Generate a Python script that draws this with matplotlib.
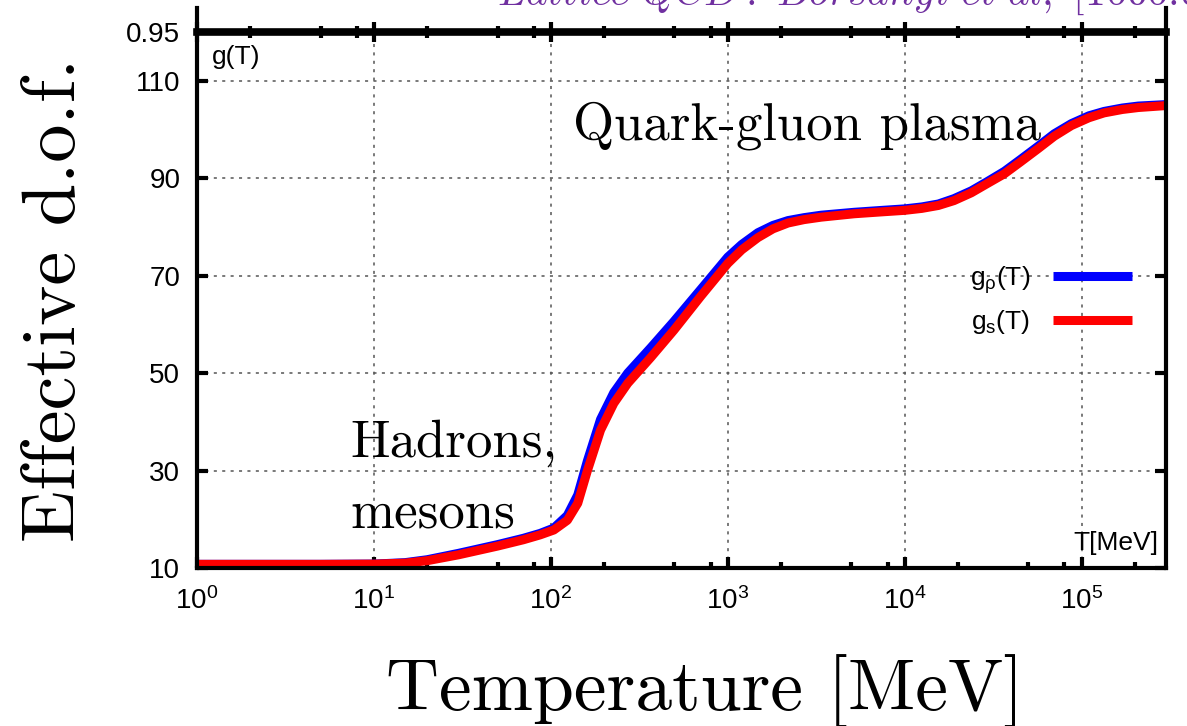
import matplotlib

matplotlib.use("Agg")
import matplotlib.pyplot as plt

# ---- data (T in MeV)
temp = [1, 5, 10, 15, 20, 30, 50, 70, 87, 104,
        124, 142, 161, 191, 227, 272, 367, 496, 705, 1000,
        1200, 1480, 1800, 2190, 2700, 3370, 5190, 7500, 10000, 12500,
        15500, 19000, 23800, 29000, 36600, 45000, 57000, 70000, 87600, 110000,
        134000, 170000, 209000, 300000]
g_rho = [10.75, 10.75, 10.8, 11.1, 11.7, 13.0, 14.8, 16.1, 17.1, 18.2,
         20.8, 25.0, 32.0, 40.5, 46.0, 50.0, 55.2, 60.6, 67.2, 73.8,
         76.4, 78.8, 80.3, 81.3, 81.9, 82.4, 83.0, 83.4, 83.7, 84.1,
         84.7, 85.8, 87.4, 89.2, 91.4, 93.8, 96.6, 99.1, 101.2, 102.8,
         103.7, 104.4, 104.8, 105.1]
g_s = [10.75, 10.75, 10.8, 11.0, 11.5, 12.7, 14.5, 15.8, 16.8, 17.8,
       19.8, 23.3, 30.0, 38.3, 43.8, 47.9, 53.2, 58.8, 65.8, 72.5,
       75.3, 77.8, 79.6, 80.8, 81.5, 82.0, 82.7, 83.1, 83.4, 83.8,
       84.4, 85.4, 87.0, 88.8, 90.9, 93.3, 96.1, 98.6, 100.8, 102.4,
       103.4, 104.1, 104.5, 104.9]

xticks = [1, 10, 100, 1000, 10000, 100000]
xticklabels = ["$10^{0}$", "$10^{1}$", "$10^{2}$", "$10^{3}$", "$10^{4}$", "$10^{5}$"]
xminor = [2, 5, 8, 20, 50, 80, 200, 500, 800, 2000, 5000, 8000,
          20000, 50000, 80000, 200000]
yticks = [10, 30, 50, 70, 90, 110, 120]
yticklabels = ["10", "30", "50", "70", "90", "110", "0.95"]
XLIM = (1, 3e5)
YLIM = (10, 120)

plt.rcParams["font.family"] = ["Liberation Sans", "DejaVu Sans"]
plt.rcParams["mathtext.fontset"] = "custom"
plt.rcParams["mathtext.rm"] = "Liberation Sans"
plt.rcParams["mathtext.it"] = "Liberation Sans:italic"
plt.rcParams["mathtext.default"] = "regular"

SERIF = "cmr10"
fig = plt.figure(figsize=(11.87, 7.26), dpi=100)
ax = fig.add_axes([197 / 1187, 1 - 568 / 726, 969 / 1187, 536 / 726])

ax.plot(temp, g_rho, color="#0000ff", lw=6.5, solid_capstyle="butt",
        solid_joinstyle="round", label="g$_{\\rho}$(T)")
ax.plot(temp, g_s, color="#ff0000", lw=6.5, solid_capstyle="butt",
        solid_joinstyle="round", label="g$_{\\mathrm{s}}$(T)")

ax.set_xscale("log")
ax.set_xticks(xticks)
ax.set_xticklabels(xticklabels)
ax.set_xticks(xminor, minor=True)
ax.set_yticks(yticks)
ax.set_yticklabels(yticklabels)
ax.set_xlim(*XLIM)
ax.set_ylim(*YLIM)
ax.tick_params(axis="both", which="major", labelsize=20, direction="in",
               length=8, width=3)
ax.tick_params(axis="y", pad=12, right=True)
ax.tick_params(axis="x", pad=14)
ax.tick_params(axis="x", which="minor", direction="in", length=4, width=3,
               labelbottom=False)
ax.grid(True, which="major", color="#555555", ls=(0, (2, 3.5)), lw=1.1)

for s in ("left", "right", "bottom"):
    ax.spines[s].set_linewidth(3)
ax.spines["top"].set_linewidth(5.5)

# top axis: ticks crossing the thick line
top = ax.twiny()
top.set_xscale("log")
top.set_xticks(xticks)
top.set_xticks(xminor, minor=True)
top.set_xlim(*XLIM)
top.tick_params(which="major", direction="inout", length=14, width=3,
                labeltop=False)
top.tick_params(which="minor", direction="inout", length=8, width=3,
                labeltop=False)
for s in top.spines.values():
    s.set_visible(False)

# frame stubs above the top line
for xx in (0, 1):
    ax.plot([xx, xx], [1, 1.045], color="black", lw=3,
            transform=ax.transAxes, clip_on=False)

leg = ax.legend(loc="center right", bbox_to_anchor=(0.965, 0.5),
                frameon=False, fontsize=19, markerfirst=False,
                handlelength=3.0, handletextpad=0.85, labelspacing=0.45,
                borderpad=0, borderaxespad=0)

ax.text(0.015, 0.975, "g(T)", transform=ax.transAxes, fontsize=19,
        ha="left", va="top")
ax.text(0.992, 0.025, "T[MeV]", transform=ax.transAxes, fontsize=19,
        ha="right", va="bottom")

ax.text(0.388, (568 - 140) / 536, "Quark-gluon plasma", transform=ax.transAxes,
        family=SERIF, fontsize=38, va="baseline", ha="left")
ax.text(0.158, (568 - 457) / 536, "Hadrons,", transform=ax.transAxes,
        family=SERIF, fontsize=38, va="baseline", ha="left")
ax.text(0.158, (568 - 527) / 536, "mesons", transform=ax.transAxes,
        family=SERIF, fontsize=38, va="baseline", ha="left")

fig.text(705 / 1187, 1 - 710 / 726, "Temperature [MeV]", family=SERIF,
         fontsize=53, ha="center", va="baseline")
fig.text(56 / 1187, 1 - 300 / 726, "Effective d.o.f.", family=SERIF,
         fontsize=55, rotation=90, ha="center", va="center")

t = fig.text(497 / 1187, 1 - 5 / 726,
             r"$\mathit{Lattice\ QCD:\ Borsanyi\ et\ al,\ [1606.07494]}$",
             fontsize=30, color="#7030a0", ha="left", va="baseline")
t.set_math_fontfamily("cm")

fig.savefig("out.png", dpi=100)
